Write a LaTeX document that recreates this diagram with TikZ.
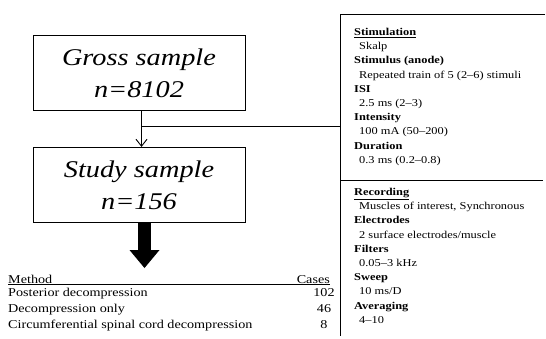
\documentclass[tikz,border=0pt]{standalone}
\usepackage{fontspec}
\setmainfont{Liberation Serif}[FakeStretch=1.18]
\usetikzlibrary{arrows.meta,positioning,calc}
\tikzset{
  sbox/.style={draw, line width=0.9pt, minimum width=212pt, minimum height=75pt, align=center, inner sep=0pt, font=\fontsize{24}{32}\selectfont\itshape},
  flow/.style={-{Straight Barb[length=7pt,width=11pt]}, line width=0.9pt},
  fat/.style={line width=13pt, -{Triangle[length=18pt,width=30pt,line width=0pt]}},
  rule/.style={line width=0.8pt},
  plist/.style={anchor=north west, align=left, inner sep=0pt, font=\fontsize{10.5}{14.2}\selectfont},
  trow/.style={anchor=base west, inner sep=0pt, font=\fontsize{12}{14}\selectfont},
  tnum/.style={anchor=base, inner sep=0pt, font=\fontsize{12}{14}\selectfont},
}
\newcommand{\ind}{\hspace*{5pt}}

\begin{document}
\begin{tikzpicture}[x=1pt, y=-1pt]
  \useasboundingbox (0,0) rectangle (546,338);
  % sample boxes
  \node[sbox] (gross) at (139,73) {Gross sample\\n=8102};
  \node[sbox, below=36pt of gross] (study) {Study sample\\n=156};
  \draw[flow] ([xshift=2.5pt]gross.south) -- ([xshift=2.5pt]study.north);
  \coordinate (branch) at ($([xshift=2.5pt]gross.south)!0.42!([xshift=2.5pt]study.north)$);
  % parameter panel
  \coordinate (ptop) at (340,14);
  \coordinate (pend) at (545,14);
  \coordinate (pbot) at (340,336);
  \coordinate (pdiv) at (340,180);
  \draw[rule] (pend) -- (ptop) -- (pbot);
  \draw[rule] (pdiv) -- ++(203,0);
  \draw[rule] (branch) -- (branch -| ptop);
  \node[plist] (stim) at (354,28) {\textbf{\underline{Stimulation}}\\
    \ind Skalp\\
    \textbf{Stimulus (anode)}\\
    \ind Repeated train of 5 (2--6) stimuli\\
    \textbf{ISI}\\
    \ind 2.5 ms (2--3)\\
    \textbf{Intensity}\\
    \ind 100 mA (50--200)\\
    \textbf{Duration}\\
    \ind 0.3 ms (0.2--0.8)};
  \node[plist] (rec) at (354,188) {\textbf{\underline{Recording}}\\
    \ind Muscles of interest, Synchronous\\
    \textbf{Electrodes}\\
    \ind 2 surface electrodes/muscle\\
    \textbf{Filters}\\
    \ind 0.05--3 kHz\\
    \textbf{Sweep}\\
    \ind 10 ms/D\\
    \textbf{Averaging}\\
    \ind 4--10};
  % methods table
  \coordinate (mtip) at (144.5,268);
  \draw[fat] ([xshift=5.5pt]study.south) -- (mtip);
  \node[trow] (mhead) at (8,283) {Method};
  \node[trow, anchor=base east] (mcases) at (330,283) {Cases};
  \draw[rule] ([yshift=-1.5pt]mhead.base west) -- ([yshift=-1.5pt]mcases.base east);
  \node[trow] (m1) at (8,296) {Posterior decompression};
  \node[trow] (m2) at (8,312) {Decompression only};
  \node[trow] (m3) at (8,328) {Circumferential spinal cord decompression};
  \node[tnum] (n1) at (324,296) {102};
  \node[tnum] (n2) at (324,312) {46};
  \node[tnum] (n3) at (324,328) {8};
\end{tikzpicture}
\end{document}
